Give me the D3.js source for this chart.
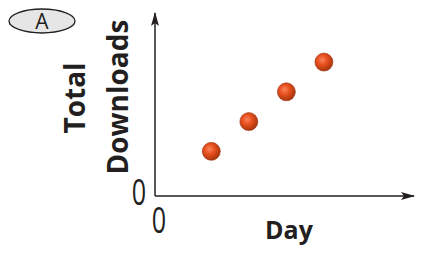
<!DOCTYPE html>
<html>
<head>
<meta charset="utf-8">
<script src="https://cdn.jsdelivr.net/npm/d3@7"></script>
<style>
  html, body { margin: 0; padding: 0; background: #fff; }
  svg { display: block; }
</style>
</head>
<body>
<div id="chart"></div>
<script>
// Scatter plot "A": total downloads vs day (no scale shown, only 0 at origin)
const days = [3, 5, 7, 9];
const downloads = [3, 5, 7, 9];
const xTickLabels = ['0'];
const yTickLabels = ['0'];

const width = 422, height = 253;
const ink = '#231f20';
const font = 'Open Sans, sans-serif';

const svg = d3.select('#chart')
  .append('svg')
  .attr('width', width)
  .attr('height', height);

const x = d3.scaleLinear().domain([0, 13.8]).range([155, 414]);
const y = d3.scaleLinear().domain([0, 12.3]).range([196, 13]);

const defs = svg.append('defs');

// arrow head
defs.append('marker')
  .attr('id', 'arrow')
  .attr('viewBox', '0 0 14 10')
  .attr('refX', 13)
  .attr('refY', 5)
  .attr('markerWidth', 14)
  .attr('markerHeight', 10)
  .attr('markerUnits', 'userSpaceOnUse')
  .attr('orient', 'auto')
  .append('path')
  .attr('d', 'M0,1 L14,5 L0,9 L3,5 Z')
  .attr('fill', ink);

// shaded ball
const grad = defs.append('radialGradient')
  .attr('id', 'ball')
  .attr('cx', '40%').attr('cy', '38%').attr('r', '62%');
grad.append('stop').attr('offset', '0%').attr('stop-color', '#f7845a');
grad.append('stop').attr('offset', '45%').attr('stop-color', '#e8501e');
grad.append('stop').attr('offset', '100%').attr('stop-color', '#a8350e');

// "A" badge
svg.append('ellipse')
  .attr('cx', 42).attr('cy', 21)
  .attr('rx', 33).attr('ry', 12)
  .attr('fill', '#e6e6e6')
  .attr('stroke', ink)
  .attr('stroke-width', 1.3);
svg.append('text')
  .attr('x', 42).attr('y', 28.5)
  .attr('text-anchor', 'middle')
  .attr('font-family', font)
  .attr('font-size', 21)
  .attr('fill', ink)
  .text('A');

// axes
const [x0, x1] = x.range();
const [y0, y1] = y.range();
svg.append('line')
  .attr('x1', x0).attr('y1', y0)
  .attr('x2', x1).attr('y2', y0)
  .attr('stroke', ink).attr('stroke-width', 1.5)
  .attr('marker-end', 'url(#arrow)');
svg.append('line')
  .attr('x1', x0).attr('y1', y0)
  .attr('x2', x0).attr('y2', y1)
  .attr('stroke', ink).attr('stroke-width', 1.5)
  .attr('marker-end', 'url(#arrow)');

// origin labels (narrow, light zeros)
svg.append('text')
  .attr('transform', `translate(${x(0) - 16}, ${y(0) + 9}) scale(0.68, 1)`)
  .attr('text-anchor', 'middle')
  .attr('font-family', font)
  .attr('font-size', 37)
  .attr('fill', ink)
  .text(yTickLabels[0]);
svg.append('text')
  .attr('transform', `translate(${x(0) + 4}, ${y(0) + 37}) scale(0.68, 1)`)
  .attr('text-anchor', 'middle')
  .attr('font-family', font)
  .attr('font-size', 37)
  .attr('fill', ink)
  .text(xTickLabels[0]);

// axis titles
svg.append('text')
  .attr('x', 289).attr('y', 239)
  .attr('text-anchor', 'middle')
  .attr('font-family', font)
  .attr('font-weight', 'bold')
  .attr('font-size', 25)
  .attr('fill', ink)
  .text('Day');

svg.append('text')
  .attr('transform', 'translate(85, 98) rotate(-90)')
  .attr('text-anchor', 'middle')
  .attr('font-family', font)
  .attr('font-weight', 'bold')
  .attr('font-size', 28)
  .attr('fill', ink)
  .text('Total');
svg.append('text')
  .attr('transform', 'translate(128, 97) rotate(-90)')
  .attr('text-anchor', 'middle')
  .attr('font-family', font)
  .attr('font-weight', 'bold')
  .attr('font-size', 28)
  .attr('fill', ink)
  .text('Downloads');

// points
svg.selectAll('.pt')
  .data(days.map((d, i) => ({ day: d, total: downloads[i] })))
  .join('circle')
  .attr('class', 'pt')
  .attr('cx', d => x(d.day))
  .attr('cy', d => y(d.total))
  .attr('r', 9)
  .attr('fill', 'url(#ball)')
  .attr('stroke', '#9a3010')
  .attr('stroke-width', 0.6);
</script>
</body>
</html>
